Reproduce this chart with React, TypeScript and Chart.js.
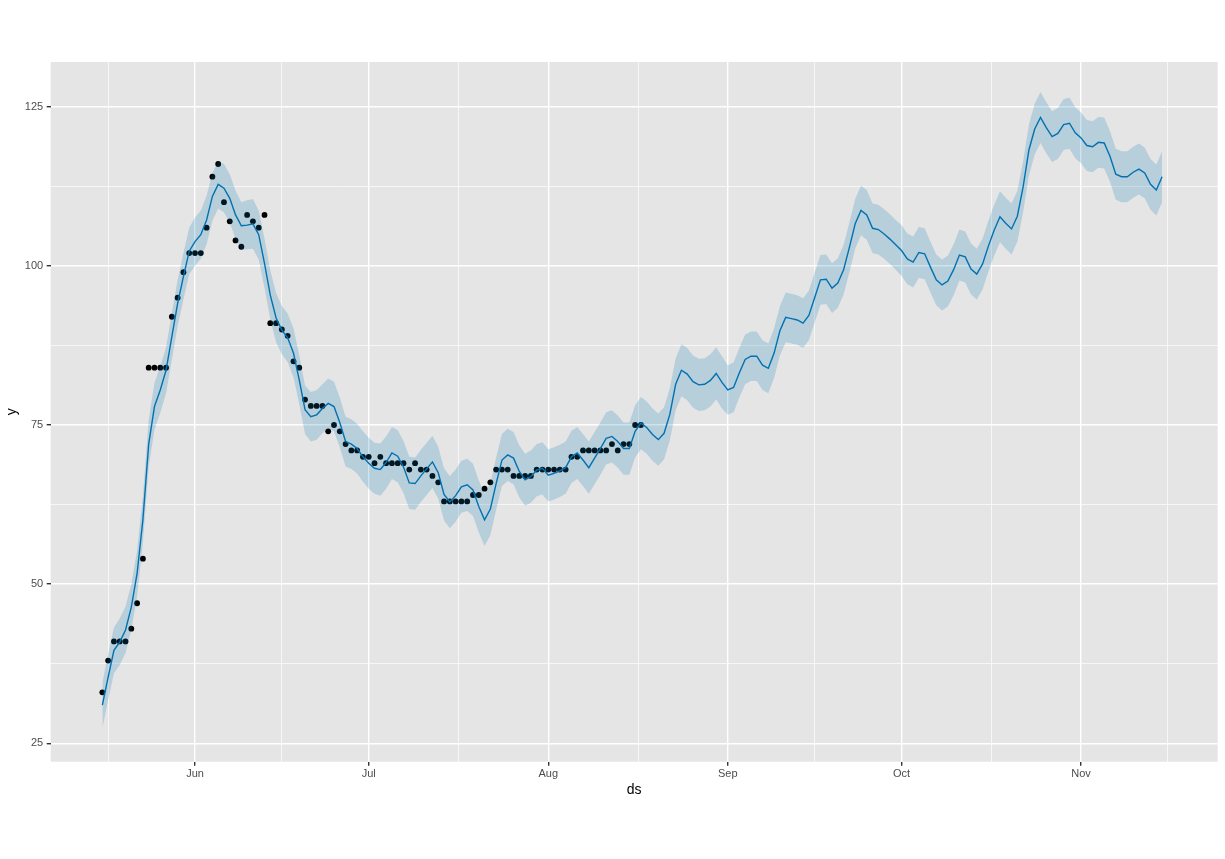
import React, { useEffect, useRef } from 'react';
import { Chart, registerables } from 'chart.js';

Chart.register(...registerables);

// x is the day number counted from 2020-05-16 (day 0)
const monthTicks = [16, 46, 77, 108, 138, 169];
const monthLabels = ['Jun', 'Jul', 'Aug', 'Sep', 'Oct', 'Nov'];
const minorDayTicks = [1, 31, 61.5, 92.5, 123, 153.5, 184];
const yMajorTicks = [25, 50, 75, 100, 125];
const yMinorTicks = [37.5, 62.5, 87.5, 112.5];

// observed y, daily from May 16 to Aug 17
const observed = [
  33, 38, 41, 41, 41, 43, 47, 54, 84, 84, 84, 84, 92, 95, 99, 102,
  102, 102, 106, 114, 116, 110, 107, 104, 103, 108, 107, 106, 108, 91, 91,
  90, 89, 85, 84, 79, 78, 78, 78, 74, 75, 74, 72, 71, 71, 70,
  70, 69, 70, 69, 69, 69, 69, 68, 69, 68, 68, 67, 66, 63, 63, 63,
  63, 63, 64, 64, 65, 66, 68, 68, 68, 67, 67, 67, 67, 68, 68,
  68, 68, 68, 68, 70, 70, 71, 71, 71, 71, 71, 72, 71, 72, 72, 75, 75,
];

// forecast, daily from May 16 to Nov 15
const yhat = [
  31.0, 35.4, 39.6, 40.9, 42.8, 46.4, 51.7, 60.1, 72.0, 77.9, 80.5, 83.6, 88.9, 94.1, 98.3, 102.3,
  103.8, 104.9, 107.2, 110.9, 112.8, 112.2, 110.6, 108.0, 106.3, 106.4, 106.6, 104.9, 100.4, 95.4, 91.8,
  89.9, 88.7, 86.3, 82.1, 77.4, 76.3, 76.6, 77.6, 78.4, 77.9, 75.4, 72.4, 72.0, 71.3, 70.0,
  69.0, 68.2, 68.0, 69.1, 70.6, 70.1, 68.4, 65.9, 65.8, 67.0, 68.1, 69.2, 67.5, 64.1, 62.9, 63.9,
  65.3, 65.6, 64.8, 62.2, 60.1, 61.8, 65.8, 69.5, 70.3, 69.8, 67.7, 66.4, 66.9, 67.9, 68.2,
  67.1, 67.4, 67.8, 68.3, 70.0, 70.6, 69.5, 68.3, 69.8, 71.3, 72.9, 73.2, 72.4, 71.3, 71.3, 74.0,
  75.3, 74.6, 73.5, 72.7, 73.7, 76.7, 81.4, 83.6, 83.0, 81.8, 81.3, 81.4, 82.0, 83.1, 81.7,
  80.5, 80.9, 83.2, 85.3, 85.8, 85.8, 84.4, 83.9, 86.3, 89.8, 91.9, 91.7, 91.5, 91.0, 92.2,
  95.0, 97.8, 97.9, 96.5, 97.3, 99.4, 102.9, 106.6, 108.7, 108.0, 105.9, 105.7, 105.0, 104.2, 103.3,
  102.4, 101.1, 100.6, 102.1, 101.9, 99.8, 97.8, 97.0, 97.6, 99.4, 101.7, 101.4, 99.5, 98.7, 100.3, 103.1,
  105.6, 107.7, 106.7, 105.8, 107.8, 112.4, 118.2, 121.5, 123.3, 121.7, 120.3, 120.8, 122.2, 122.4, 120.9,
  120.1, 118.9, 118.7, 119.4, 119.3, 117.2, 114.4, 114.0, 114.0, 114.7, 115.2, 114.6, 112.8, 111.9, 114.0,
];

const yhatUpper = [
  34.5, 39.0, 43.2, 44.6, 46.5, 50.0, 55.3, 63.8, 75.8, 81.6, 84.2, 87.2, 92.6, 97.8, 102.0, 106.0,
  107.6, 108.7, 111.0, 114.6, 116.4, 116.0, 114.4, 111.8, 110.0, 110.3, 110.5, 108.7, 104.3, 99.3, 95.7,
  93.7, 92.5, 90.2, 86.0, 81.2, 80.2, 80.5, 81.4, 82.3, 81.8, 79.3, 76.3, 75.9, 75.2, 74.0,
  73.0, 72.2, 72.1, 73.2, 74.7, 74.2, 72.5, 70.0, 69.9, 71.1, 72.2, 73.3, 71.6, 68.2, 67.0, 68.0,
  69.4, 69.7, 68.9, 66.3, 64.2, 65.9, 69.9, 73.6, 74.4, 73.9, 71.8, 70.5, 71.0, 72.0, 72.3,
  71.2, 71.5, 71.9, 72.4, 74.1, 74.7, 73.6, 72.4, 73.9, 75.4, 77.0, 77.3, 76.5, 75.4, 75.4, 78.1,
  79.4, 78.7, 77.6, 76.8, 77.8, 80.8, 85.5, 87.7, 87.1, 85.9, 85.4, 85.5, 86.1, 87.2, 85.8,
  84.4, 84.8, 87.1, 89.2, 89.7, 89.7, 88.3, 87.8, 90.2, 93.7, 95.8, 95.6, 95.4, 94.9, 96.1,
  98.9, 101.7, 101.8, 100.4, 101.2, 103.3, 106.8, 110.5, 112.6, 111.9, 109.8, 109.6, 108.9, 108.1, 107.2,
  106.4, 105.1, 104.6, 106.1, 105.9, 103.8, 101.8, 101.0, 101.6, 103.4, 105.7, 105.4, 103.5, 102.7, 104.3, 107.1,
  109.6, 111.7, 110.7, 109.8, 111.8, 116.4, 122.2, 125.5, 127.3, 125.7, 124.3, 124.8, 126.2, 126.4, 124.9,
  124.1, 122.9, 122.7, 123.4, 123.3, 121.2, 118.4, 118.0, 118.0, 118.7, 119.2, 118.6, 116.8, 115.9, 118.0,
];

const yhatLower = [
  27.4, 31.8, 36.0, 37.3, 39.2, 42.8, 48.1, 56.5, 68.4, 74.3, 76.9, 80.0, 85.3, 90.5, 94.7, 98.7,
  100.0, 101.1, 103.4, 107.1, 109.0, 108.4, 106.8, 104.2, 102.5, 102.6, 102.7, 101.0, 96.5, 91.6, 88.0,
  86.1, 84.9, 82.5, 78.3, 73.6, 72.4, 72.7, 73.7, 74.5, 74.0, 71.5, 68.5, 68.1, 67.4, 66.1,
  65.0, 64.2, 63.9, 65.0, 66.5, 66.0, 64.3, 61.8, 61.7, 62.9, 64.0, 65.1, 63.4, 60.0, 58.8, 59.8,
  61.2, 61.5, 60.7, 58.1, 56.0, 57.7, 61.7, 65.4, 66.2, 65.7, 63.6, 62.3, 62.8, 63.8, 64.1,
  63.0, 63.3, 63.7, 64.2, 65.9, 66.5, 65.4, 64.2, 65.7, 67.2, 68.8, 69.1, 68.3, 67.2, 67.2, 69.9,
  71.2, 70.5, 69.4, 68.6, 69.6, 72.6, 77.3, 79.5, 78.9, 77.7, 77.2, 77.3, 77.9, 79.0, 77.6,
  76.6, 77.0, 79.3, 81.4, 81.9, 81.9, 80.5, 80.0, 82.4, 85.9, 88.0, 87.8, 87.6, 87.1, 88.3,
  91.1, 93.9, 94.0, 92.6, 93.4, 95.5, 99.0, 102.7, 104.8, 104.1, 102.0, 101.8, 101.1, 100.3, 99.4,
  98.4, 97.1, 96.6, 98.1, 97.9, 95.8, 93.8, 93.0, 93.6, 95.4, 97.7, 97.4, 95.5, 94.7, 96.3, 99.1,
  101.6, 103.7, 102.7, 101.8, 103.8, 108.4, 114.2, 117.5, 119.3, 117.7, 116.3, 116.8, 118.2, 118.4, 116.9,
  116.1, 114.9, 114.7, 115.4, 115.3, 113.2, 110.4, 110.0, 110.0, 110.7, 111.2, 110.6, 108.8, 107.9, 110.0,
];

const FONT = '"Liberation Sans", Arial, Helvetica, sans-serif';

// grey panel behind the plot area
const panelBackground = {
  id: 'panelBackground',
  beforeDraw(chart: any) {
    const { ctx, chartArea } = chart;
    ctx.save();
    ctx.fillStyle = '#E5E5E5';
    ctx.fillRect(chartArea.left, chartArea.top, chartArea.right - chartArea.left, chartArea.bottom - chartArea.top);
    ctx.restore();
  },
};

function ForecastChart() {
  const canvasRef = useRef<HTMLCanvasElement>(null);

  useEffect(() => {
    if (!canvasRef.current) return;

    const toPoints = (values: number[]) => values.map((v, i) => ({ x: i, y: v }));

    const chart = new Chart(canvasRef.current, {
      type: 'line',
      data: {
        datasets: [
          {
            label: 'lower',
            data: toPoints(yhatLower),
            borderWidth: 0,
            pointRadius: 0,
            fill: false,
            order: 0,
          },
          {
            label: 'upper',
            data: toPoints(yhatUpper),
            borderWidth: 0,
            pointRadius: 0,
            backgroundColor: 'rgba(0, 114, 178, 0.2)',
            fill: '-1',
            order: 0,
          },
          {
            label: 'yhat',
            data: toPoints(yhat),
            borderColor: '#0072B2',
            borderWidth: 1.4,
            pointRadius: 0,
            tension: 0,
            fill: false,
            order: 1,
          },
          {
            label: 'y',
            data: toPoints(observed),
            showLine: false,
            pointRadius: 2.9,
            pointBackgroundColor: '#000000',
            pointBorderWidth: 0,
            order: 2,
          },
        ],
      },
      options: {
        animation: false,
        responsive: true,
        maintainAspectRatio: false,
        layout: { padding: { top: 62, right: 7.3, left: 0, bottom: 56.3 } },
        plugins: {
          legend: { display: false },
          tooltip: { enabled: false },
        },
        scales: {
          x: {
            type: 'linear',
            min: -8.92,
            max: 192.6,
            afterBuildTicks: (scale: any) => {
              scale.ticks = [...monthTicks, ...minorDayTicks]
                .sort((a, b) => a - b)
                .map((v) => ({ value: v }));
            },
            afterFit: (scale: any) => {
              scale.height = 41;
            },
            ticks: {
              autoSkip: false,
              maxRotation: 0,
              padding: 2,
              color: '#4D4D4D',
              font: { family: FONT, size: 11 },
              callback: (value: any) => {
                const i = monthTicks.indexOf(Number(value));
                return i >= 0 ? monthLabels[i] : '';
              },
            },
            grid: {
              color: '#FFFFFF',
              lineWidth: (ctx: any) => (monthTicks.includes(ctx.tick?.value) ? 1.4 : 0.7),
              tickColor: (ctx: any) => (monthTicks.includes(ctx.tick?.value) ? '#333333' : 'rgba(0,0,0,0)'),
              tickLength: 4,
            },
            border: { display: false },
            title: {
              display: true,
              text: 'ds',
              color: '#000000',
              font: { family: FONT, size: 14 },
            },
          },
          y: {
            type: 'linear',
            min: 22.11,
            max: 132.02,
            afterBuildTicks: (scale: any) => {
              scale.ticks = [...yMajorTicks, ...yMinorTicks]
                .sort((a, b) => a - b)
                .map((v) => ({ value: v }));
            },
            afterFit: (scale: any) => {
              scale.width = 50.7;
            },
            ticks: {
              autoSkip: false,
              padding: 3.5,
              color: '#4D4D4D',
              font: { family: FONT, size: 11 },
              callback: (value: any) => (yMajorTicks.includes(Number(value)) ? String(value) : ''),
            },
            grid: {
              color: '#FFFFFF',
              lineWidth: (ctx: any) => (yMajorTicks.includes(ctx.tick?.value) ? 1.4 : 0.7),
              tickColor: (ctx: any) => (yMajorTicks.includes(ctx.tick?.value) ? '#333333' : 'rgba(0,0,0,0)'),
              tickLength: 4,
            },
            border: { display: false },
            title: {
              display: true,
              text: 'y',
              color: '#000000',
              font: { family: FONT, size: 14 },
            },
          },
        },
      },
      plugins: [panelBackground],
    });

    return () => {
      chart.destroy();
    };
  }, []);

  return (
    <div style={{ position: 'fixed', left: 0, top: 0, width: 1225, height: 859, background: '#FFFFFF' }}>
      <canvas ref={canvasRef}></canvas>
    </div>
  );
}

export default function App() {
  return <ForecastChart />;
}
